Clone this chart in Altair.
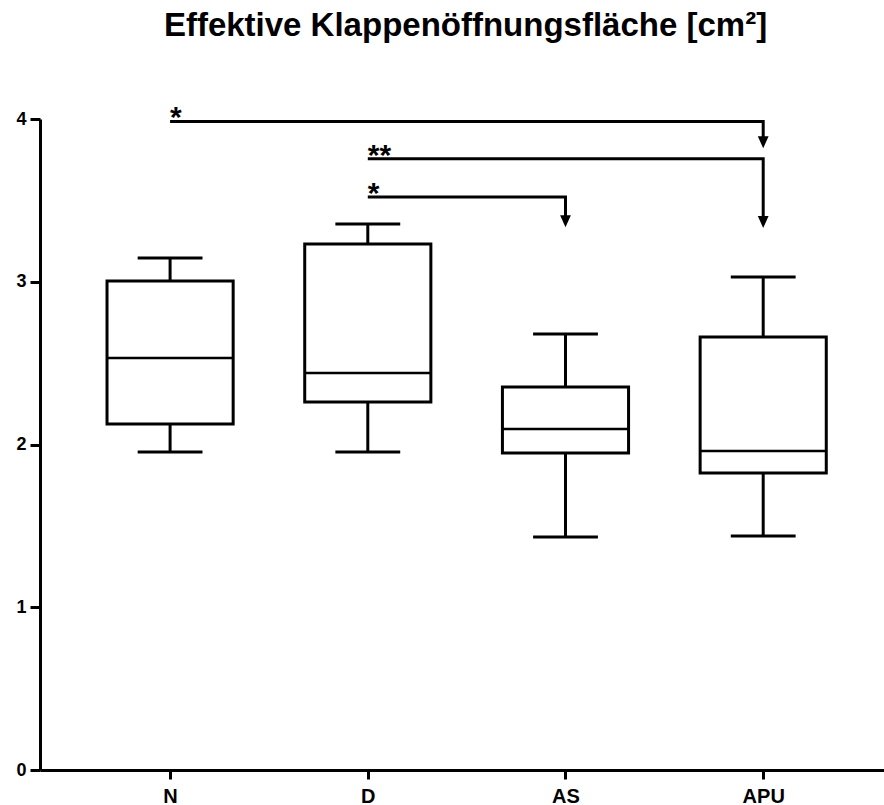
import altair as alt
import pandas as pd

# ---- data ----
groups = ["N", "D", "AS", "APU"]
positions = [1, 2, 3, 4]
whisker_low = [1.954, 1.954, 1.432, 1.438]
q1 = [2.126, 2.261, 1.948, 1.825]
median = [2.531, 2.439, 2.095, 1.960]
q3 = [3.005, 3.232, 2.353, 2.660]
whisker_high = [3.146, 3.355, 2.679, 3.029]

# significance comparisons
cmp_from = [1, 2, 2]
cmp_to = [4, 4, 3]
cmp_bar = [3.985, 3.755, 3.520]
cmp_tip = [3.820, 3.330, 3.335]
cmp_label = ["*", "**", "*"]

title_text = ["Effektive Klappenöffnungsfläche [cm²]"]

BOX_HALF = 0.319
CAP_HALF = 0.164
ARROW_LEN = 0.06

boxes = pd.DataFrame({
    "group": groups, "pos": positions, "low": whisker_low, "q1": q1,
    "median": median, "q3": q3, "high": whisker_high,
})
cmps = pd.DataFrame({
    "id": list(range(len(cmp_from))), "from": cmp_from, "to": cmp_to,
    "bar": cmp_bar, "tip": cmp_tip, "label": cmp_label,
})
rows = []
for i, r in cmps.iterrows():
    rows.append({"id": r["id"], "o": 0, "x": r["from"], "y": r["bar"]})
    rows.append({"id": r["id"], "o": 1, "x": r["to"], "y": r["bar"]})
    rows.append({"id": r["id"], "o": 2, "x": r["to"], "y": r["tip"] + ARROW_LEN})
paths = pd.DataFrame(rows)

label_expr = "[" + ",".join("'" + g + "'" for g in groups) + "][datum.value - 1]"

xscale = alt.Scale(domain=[0.342, 4.611], nice=False, zero=False)
yscale = alt.Scale(domain=[0, 4], nice=False)

xax = alt.Axis(values=positions, labelExpr=label_expr, title=None, grid=False,
               labelFontSize=20, labelFontWeight="bold", labelColor="black",
               tickSize=9, tickWidth=3, tickColor="black", domainWidth=3,
               domainColor="black", labelPadding=7, labelFlush=False)
yax = alt.Axis(values=[0, 1, 2, 3, 4], title=None, grid=False,
               labelFontSize=18, labelFontWeight="bold", labelColor="black",
               tickSize=10, tickWidth=3, tickColor="black", domainWidth=3,
               domainColor="black", labelPadding=4, format="d")

base = alt.Chart(boxes)

whisker = base.mark_rule(color="black", strokeWidth=3).encode(
    x=alt.X("pos:Q", scale=xscale, axis=xax),
    y=alt.Y("low:Q", scale=yscale, axis=yax),
    y2="high:Q",
)
box = base.transform_calculate(
    xl=f"datum.pos - {BOX_HALF}", xr=f"datum.pos + {BOX_HALF}"
).mark_rect(fill="white", stroke="black", strokeWidth=3).encode(
    x=alt.X("xl:Q", scale=xscale), x2="xr:Q",
    y=alt.Y("q1:Q", scale=yscale), y2="q3:Q",
)
med = base.transform_calculate(
    xl=f"datum.pos - {BOX_HALF}", xr=f"datum.pos + {BOX_HALF}"
).mark_rule(color="black", strokeWidth=2.5).encode(
    x=alt.X("xl:Q", scale=xscale), x2="xr:Q",
    y=alt.Y("median:Q", scale=yscale),
)
caps_low = base.transform_calculate(
    xl=f"datum.pos - {CAP_HALF}", xr=f"datum.pos + {CAP_HALF}"
).mark_rule(color="black", strokeWidth=3).encode(
    x=alt.X("xl:Q", scale=xscale), x2="xr:Q",
    y=alt.Y("low:Q", scale=yscale),
)
caps_high = base.transform_calculate(
    xl=f"datum.pos - {CAP_HALF}", xr=f"datum.pos + {CAP_HALF}"
).mark_rule(color="black", strokeWidth=3).encode(
    x=alt.X("xl:Q", scale=xscale), x2="xr:Q",
    y=alt.Y("high:Q", scale=yscale),
)

brackets = alt.Chart(paths).mark_line(color="black", strokeWidth=3,
                                      strokeJoin="miter").encode(
    x=alt.X("x:Q", scale=xscale),
    y=alt.Y("y:Q", scale=yscale),
    detail="id:N",
    order="o:Q",
)
arrows = alt.Chart(cmps).mark_point(
    shape="M-0.9,-2L0.9,-2L0,0Z", filled=True, size=144, color="black", opacity=1
).encode(
    x=alt.X("to:Q", scale=xscale),
    y=alt.Y("tip:Q", scale=yscale),
)
stars = alt.Chart(cmps).mark_text(
    align="left", baseline="alphabetic", fontSize=30, fontWeight="bold",
    color="black", dy=6
).encode(
    x=alt.X("from:Q", scale=xscale),
    y=alt.Y("bar:Q", scale=yscale),
    text="label:N",
)

title = alt.Chart(pd.DataFrame({"t": title_text})).mark_text(
    align="center", baseline="alphabetic", fontSize=33, fontWeight="bold",
    color="black", font="Liberation Sans"
).encode(
    x=alt.value(425.5), y=alt.value(-83), text="t:N"
)

chart = alt.layer(
    whisker, box, med, caps_low, caps_high, brackets, arrows, stars, title
).properties(
    width=844,
    height=651,
    autosize=alt.AutoSizeParams(type="none"),
    padding={"left": 40, "top": 119, "right": 0, "bottom": 35},
).configure(font="Liberation Sans", background="white").configure_view(stroke=None)

chart.save("out.html", embed_options={"renderer": "svg", "actions": False})
